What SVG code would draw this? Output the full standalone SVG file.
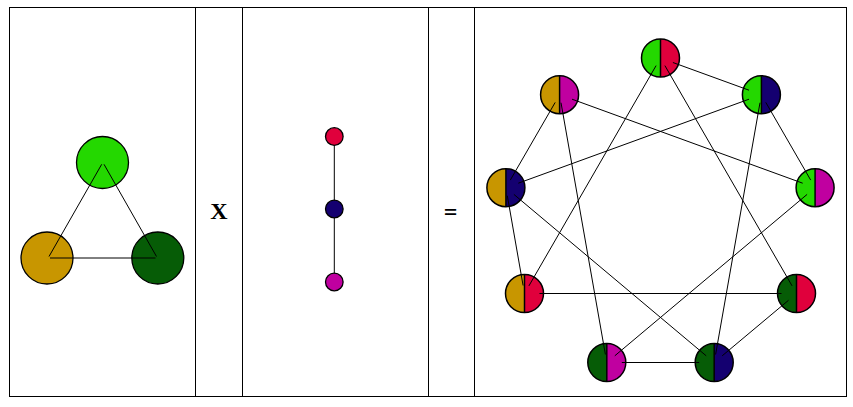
<svg xmlns="http://www.w3.org/2000/svg" width="853" height="407" viewBox="0 0 853 407">
<style>
.frame{fill:none;stroke:#000;stroke-width:1}
.big{stroke:#000;stroke-width:1.3}
.small{stroke:#000;stroke-width:1.3}
.half{stroke:none}
.ring{fill:none;stroke:#000;stroke-width:1.5}
.div{stroke:#000;stroke-width:1.5}
.edge{stroke:#000;stroke-width:1;fill:none}
.op{font-family:"Liberation Serif","Times New Roman",serif;font-weight:bold;font-size:24px;text-anchor:middle;fill:#000}
.g1{fill:#24d800}.g2{fill:#c89600}.g3{fill:#065c06}
.c1{fill:#e0003c}.c2{fill:#140070}.c3{fill:#c000a0}
</style>
<rect x="0" y="0" width="853" height="407" fill="#fff"/>
<g id="frame">
<rect class="frame" x="9.5" y="7.5" width="837" height="389"/>
<line class="frame" x1="195.5" y1="7.5" x2="195.5" y2="396.5"/>
<line class="frame" x1="242.5" y1="7.5" x2="242.5" y2="396.5"/>
<line class="frame" x1="428.5" y1="7.5" x2="428.5" y2="396.5"/>
<line class="frame" x1="474.5" y1="7.5" x2="474.5" y2="396.5"/>
</g>
<g id="operators">
<text class="op" x="219" y="219">X</text>
<text class="op" x="450.5" y="220">=</text>
</g>
<!-- left panel: triangle graph -->
<g id="tri-nodes">
<circle id="t-green" class="big g1" cx="102.5" cy="162.5" r="26"/>
<circle id="t-gold" class="big g2" cx="47" cy="258" r="26"/>
<circle id="t-dkgreen" class="big g3" cx="157.8" cy="258" r="26"/>
</g>
<g id="tri-edges">
<line class="edge" x1="101.7" y1="164.3" x2="49" y2="256.5"/>
<line class="edge" x1="104" y1="164.3" x2="156.5" y2="256.5"/>
<line class="edge" x1="50" y1="258" x2="155.5" y2="258"/>
</g>
<!-- middle panel: path graph -->
<g id="path-edges">
<line class="edge" x1="334.3" y1="136.5" x2="334.3" y2="282"/>
</g>
<g id="path-nodes">
<circle id="p-red" class="small c1" cx="334.3" cy="136.5" r="8.8"/>
<circle id="p-navy" class="small c2" cx="334.3" cy="209" r="8.8"/>
<circle id="p-magenta" class="small c3" cx="334.3" cy="282" r="8.8"/>
</g>
<!-- right panel: product graph -->
<defs>
<path id="lh" d="M0,-19 A19,19 0 0 0 0,19 Z"/>
<path id="rh" d="M0,-19 A19,19 0 0 1 0,19 Z"/>
</defs>
<g id="n0" transform="translate(660.5,58)"><use href="#lh" class="half g1"/><use href="#rh" class="half c1"/><circle class="ring" r="19"/><line class="div" x1="0" y1="-19" x2="0" y2="19"/></g>
<g id="n1" transform="translate(761.4,94.7)"><use href="#lh" class="half g1"/><use href="#rh" class="half c2"/><circle class="ring" r="19"/><line class="div" x1="0" y1="-19" x2="0" y2="19"/></g>
<g id="n2" transform="translate(815.1,187.7)"><use href="#lh" class="half g1"/><use href="#rh" class="half c3"/><circle class="ring" r="19"/><line class="div" x1="0" y1="-19" x2="0" y2="19"/></g>
<g id="n3" transform="translate(796.5,293.5)"><use href="#lh" class="half g3"/><use href="#rh" class="half c1"/><circle class="ring" r="19"/><line class="div" x1="0" y1="-19" x2="0" y2="19"/></g>
<g id="n4" transform="translate(714.2,362.5)"><use href="#lh" class="half g3"/><use href="#rh" class="half c2"/><circle class="ring" r="19"/><line class="div" x1="0" y1="-19" x2="0" y2="19"/></g>
<g id="n5" transform="translate(606.8,362.5)"><use href="#lh" class="half g3"/><use href="#rh" class="half c3"/><circle class="ring" r="19"/><line class="div" x1="0" y1="-19" x2="0" y2="19"/></g>
<g id="n6" transform="translate(524.5,293.5)"><use href="#lh" class="half g2"/><use href="#rh" class="half c1"/><circle class="ring" r="19"/><line class="div" x1="0" y1="-19" x2="0" y2="19"/></g>
<g id="n7" transform="translate(505.9,187.7)"><use href="#lh" class="half g2"/><use href="#rh" class="half c2"/><circle class="ring" r="19"/><line class="div" x1="0" y1="-19" x2="0" y2="19"/></g>
<g id="n8" transform="translate(559.6,94.7)"><use href="#lh" class="half g2"/><use href="#rh" class="half c3"/><circle class="ring" r="19"/><line class="div" x1="0" y1="-19" x2="0" y2="19"/></g>
<g id="product-edges">
<line class="edge" x1="672.9" y1="62.5" x2="749" y2="90.2"/>
<line class="edge" x1="765.8" y1="102.4" x2="810.7" y2="180.1"/>
<line class="edge" x1="664.9" y1="65.6" x2="792.1" y2="285.9"/>
<line class="edge" x1="656.1" y1="65.6" x2="528.9" y2="285.9"/>
<line class="edge" x1="781.5" y1="293.5" x2="539.5" y2="293.5"/>
<line class="edge" x1="760" y1="102.7" x2="715.6" y2="354.5"/>
<line class="edge" x1="749" y1="99.2" x2="518.3" y2="183.2"/>
<line class="edge" x1="706.2" y1="355.8" x2="513.9" y2="194.4"/>
<line class="edge" x1="802.7" y1="183.2" x2="572" y2="99.2"/>
<line class="edge" x1="807.1" y1="194.4" x2="614.8" y2="355.8"/>
<line class="edge" x1="605.4" y1="354.5" x2="561" y2="102.7"/>
<line class="edge" x1="788.5" y1="300.3" x2="722.2" y2="355.8"/>
<line class="edge" x1="699.2" y1="362.5" x2="621.8" y2="362.5"/>
<line class="edge" x1="523.1" y1="285.5" x2="507.3" y2="195.7"/>
<line class="edge" x1="510.3" y1="180.1" x2="555.2" y2="102.4"/>
</g>
</svg>
